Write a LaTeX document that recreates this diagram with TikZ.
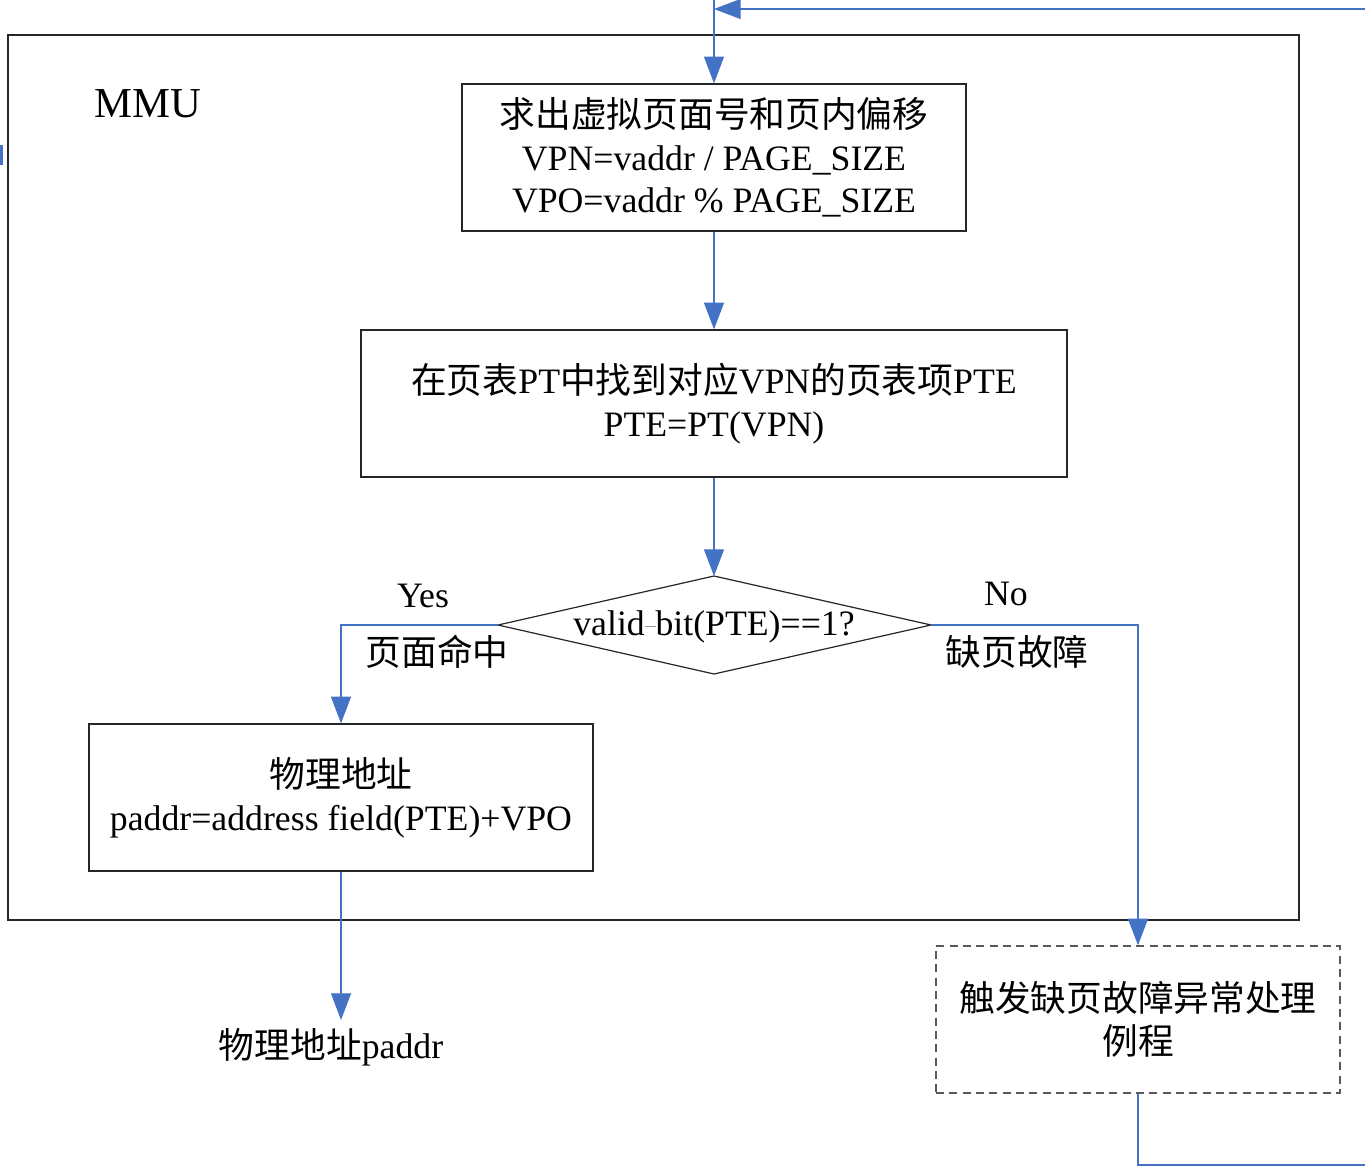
\documentclass[tikz,border=0pt]{standalone}
\usepackage{fontspec}
\setmainfont{Liberation Serif}
\newfontfamily\cjk{Noto Sans CJK SC}
\usetikzlibrary{arrows.meta}
\definecolor{flowblue}{HTML}{4472C4}
\definecolor{frame}{HTML}{262626}
\begin{document}
\begin{tikzpicture}[x=0.75pt,y=-0.75pt,
  every node/.style={font=\fontsize{26.8}{32}\selectfont, align=center, inner sep=0pt},
  procbox/.style={draw=frame, line width=1pt, minimum height=110.25pt},
  faultbox/.style={draw=black!65, line width=1pt, dashed, dash pattern=on 6pt off 4pt, minimum height=110.25pt},
  flow/.style={draw=flowblue, line width=0.8pt},
  arr/.style={flow, -{Triangle[length=20pt,width=15pt]}}
]
\useasboundingbox (0,0) rectangle (1365,1168);

% MMU enclosure
\draw[frame, line width=1pt] (8,35) rectangle (1299,920);
\node (mmu) at (148,104) {\fontsize{32}{36}\selectfont MMU};

% process boxes
\node[procbox, minimum width=378pt] (vpn) at (714,157.5)
  {{\cjk 求出虚拟页面号和页内偏移}\\VPN=vaddr / PAGE\_SIZE\\VPO=vaddr \% PAGE\_SIZE};
\node[procbox, minimum width=529.5pt] (pte) at (714,403.5)
  {{\cjk 在页表}PT{\cjk 中找到对应}VPN{\cjk 的页表项}PTE\\PTE=PT(VPN)};

% decision
\coordinate (dt) at (714,576);
\coordinate (db) at (714,674);
\coordinate (dl) at (498,625);
\coordinate (dr) at (931,625);
\draw[frame, line width=0.9pt] (dt) -- (dr) -- (db) -- (dl) -- cycle;
\node (cond) at (714,627) {valid\textcolor{black!40}{\rule[0.25em]{0.3em}{0.6pt}}bit(PTE)==1?};

\node[procbox, minimum width=378pt] (phys) at (341,797.5)
  {{\cjk 物理地址}\\paddr=address field(PTE)+VPO};
\node[faultbox, minimum width=303pt] (fault) at (1138,1019.5)
  {{\cjk 触发缺页故障异常处理}\\{\cjk 例程}};
\node (out) at (331,1047) {{\cjk 物理地址}paddr};

% branch labels
\node (yes) at (423,596) {Yes};
\node (hit) at (437,652) {\cjk 页面命中};
\node (no) at (1006,594) {No};
\node (miss) at (1017,652) {\cjk 缺页故障};

% connectors
\coordinate (entry) at (714,0);
\coordinate (loopT) at (1365,9);
\coordinate (loopB) at (1365,1165);
\coordinate (loopC) at (1138,1165);
\coordinate (joinT) at (714,9);
\draw[arr] (entry) -- (vpn.north);
\draw[arr] (loopT) -- (joinT);
\draw[arr] (vpn.south) -- (pte.north);
\draw[arr] (pte.south) -- (dt);
\draw[arr] (dl) -| (phys.north);
\draw[arr] (dr) -| (fault.north);
\draw[arr] (phys.south) -- (341,1020);
\draw[flow] (fault.south) -- (loopC) -- (loopB);

% clipped edge mark
\fill[flowblue] (0,145) rectangle (3,165);
\end{tikzpicture}
\end{document}
